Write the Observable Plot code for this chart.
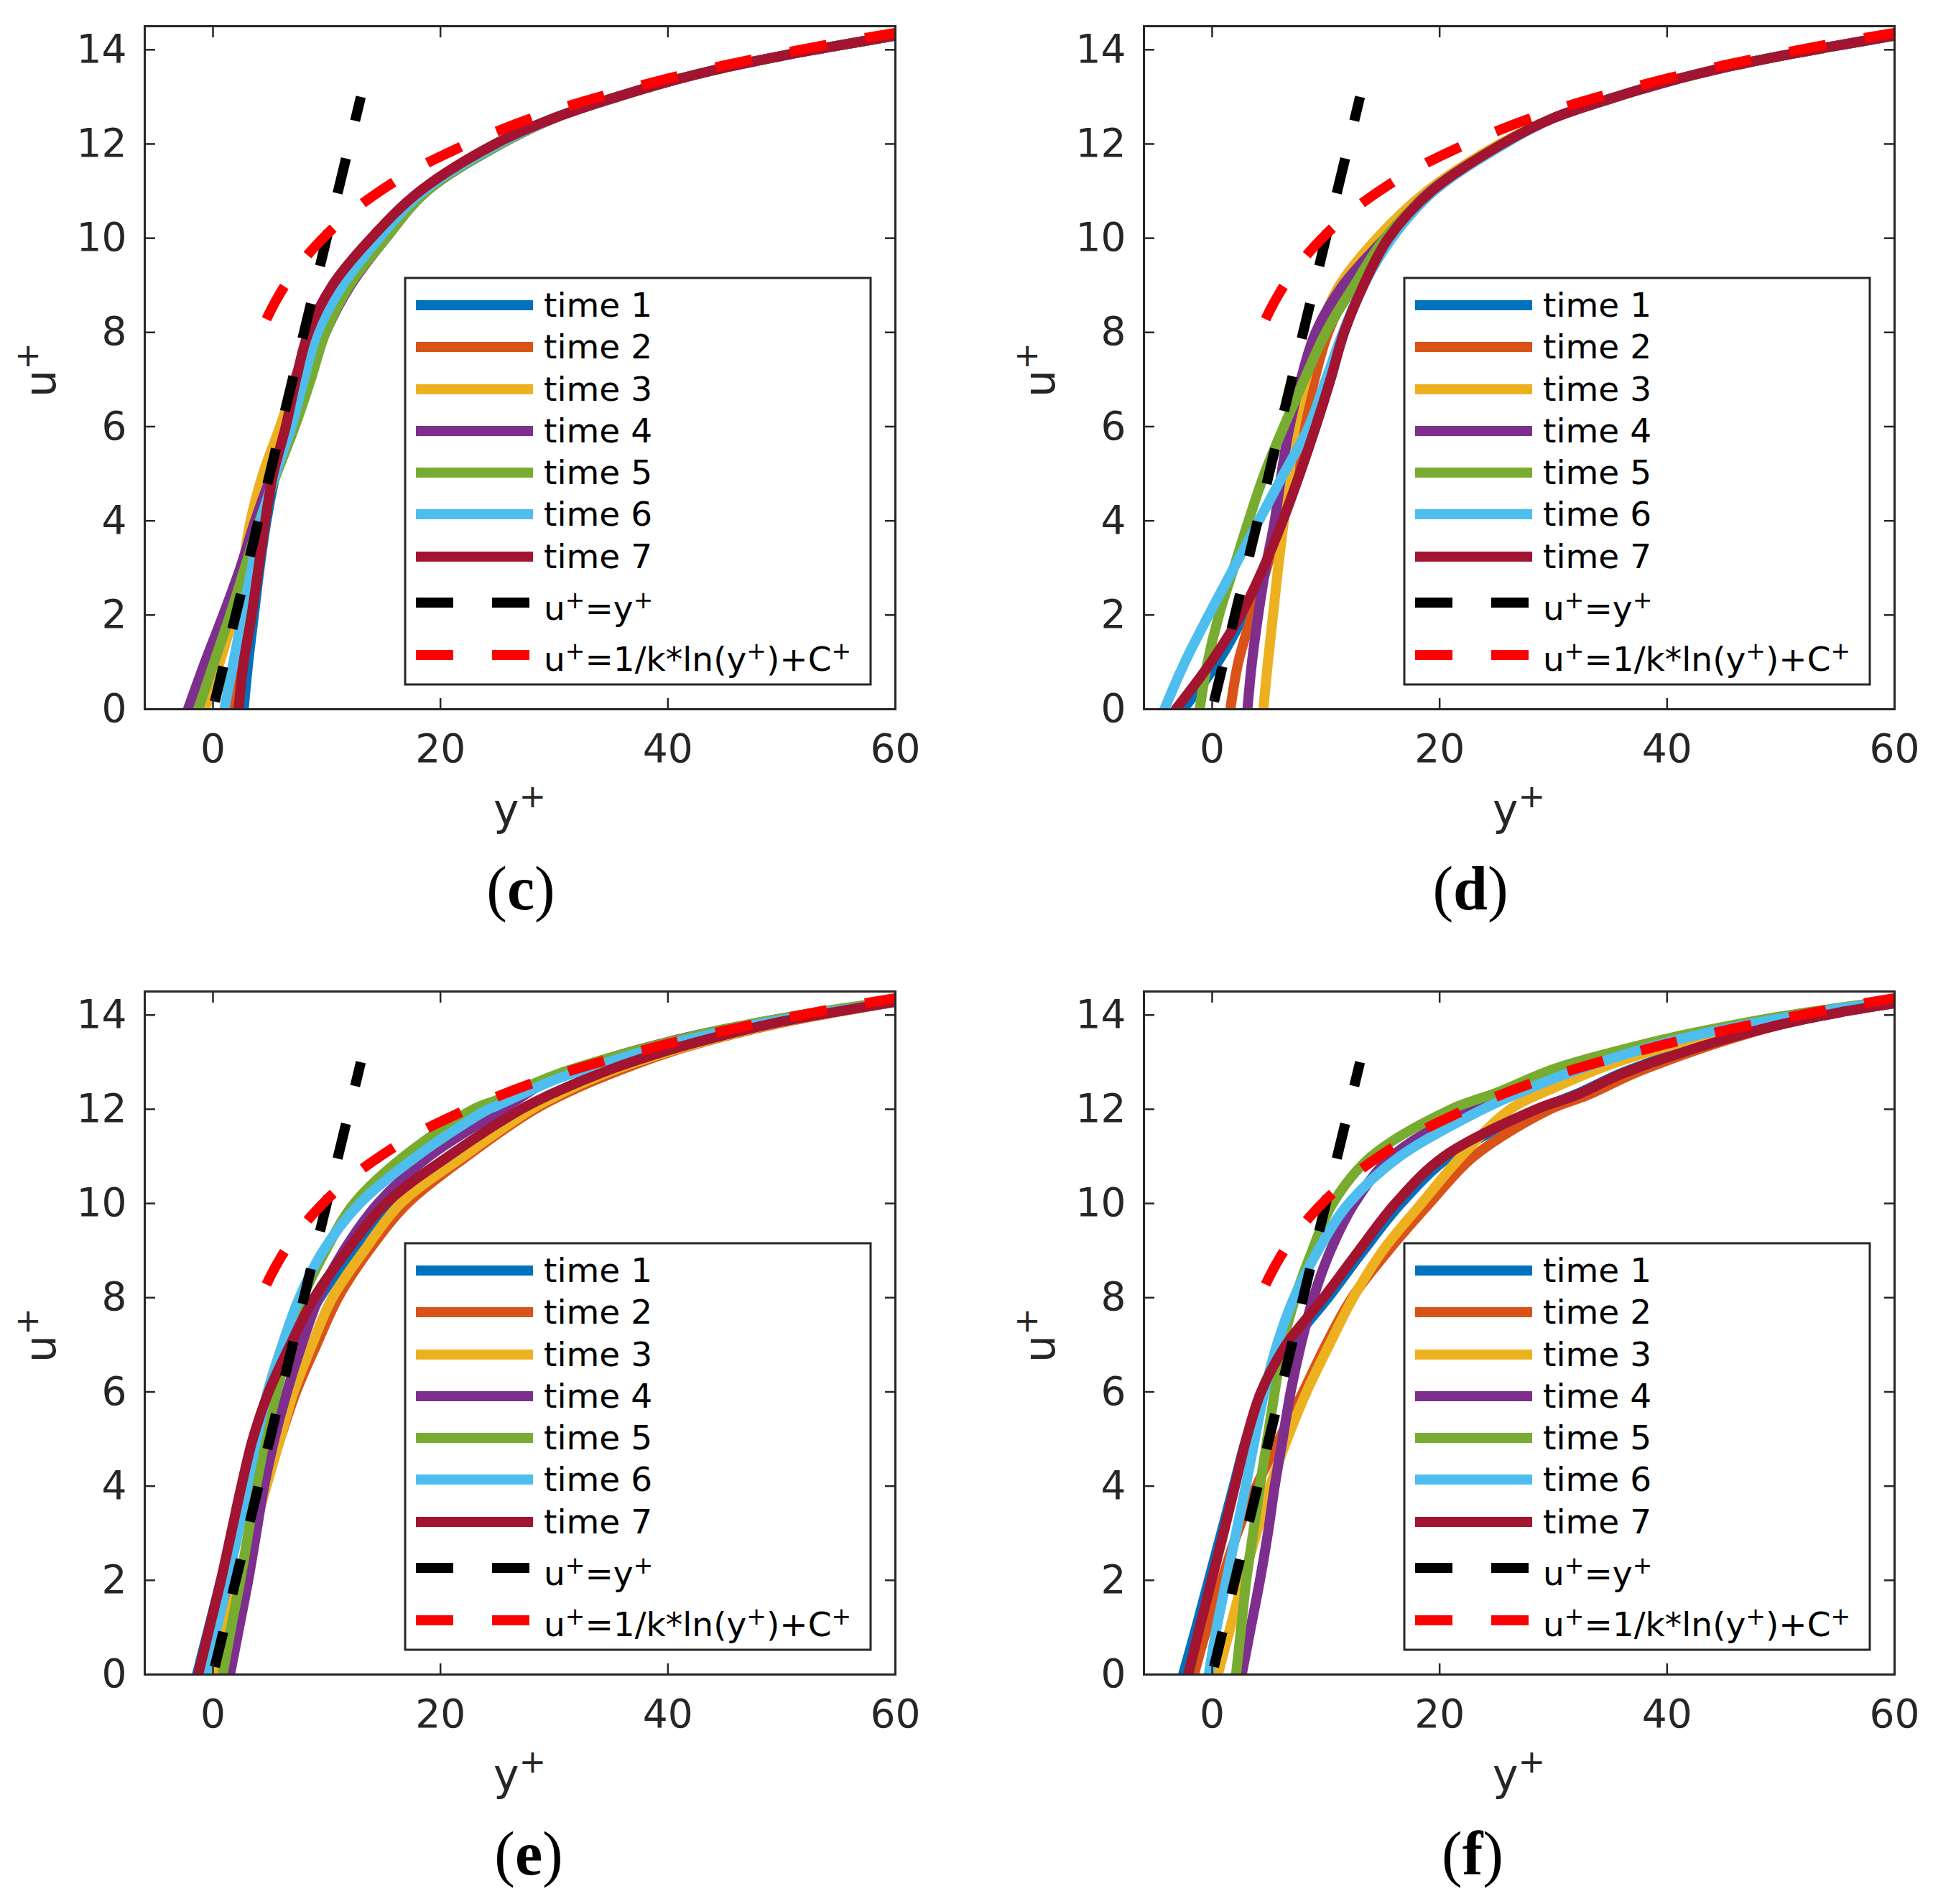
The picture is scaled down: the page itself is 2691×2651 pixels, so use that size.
<!DOCTYPE html>
<html><head><meta charset="utf-8">
<script src="https://cdn.jsdelivr.net/npm/d3@7"></script>
<script src="https://cdn.jsdelivr.net/npm/@observablehq/plot@0.6"></script>
<style>
html,body{margin:0;padding:0;background:#fff;}
#fig{position:relative;width:2691px;height:2651px;background:#fff;overflow:hidden;}
.cell{position:absolute;width:1300px;height:1307px;}
.cell svg{position:absolute;left:0;top:0;}
</style></head><body><div id="fig"></div>
<script>
// ---------- shared ----------
const uLevels = [0,1,2,3,4,5,6,7,8,9,10,11,12];
const xTicks = [0,20,40,60];
const yTicks = [0,2,4,6,8,10,12,14];
const seriesNames = ["time 1","time 2","time 3","time 4","time 5","time 6","time 7"];
const seriesColors = ["#0072BD","#D95319","#EDB120","#7E2F8E","#77AC30","#4DBEEE","#A2142F"];
const viscousY = [0, 13];
const viscousU = [0, 13];
const logLawY = [4.7,5,6,7,8,10,12,15,18,21,25,30,35,40,45,50,55,60];
const logLawU = [8.28,8.43,8.87,9.23,9.55,10.08,10.52,11.05,11.49,11.85,12.27,12.71,13.07,13.39,13.67,13.92,14.15,14.36];
const outerCD = [[30,12.55],[35,12.96],[40,13.32],[45,13.62],[50,13.87],[55,14.09],[60,14.3]];

// ---------- panel (c): y+ at uLevels ----------
const c_time1 = [2.7,3.1,3.6,4.1,4.7,5.5,6.5,7.5,8.8,10.9,14.4,18.5,25.1];
const c_time2 = [1.5,2.3,3.0,3.6,4.1,5.0,6.0,7.2,8.7,10.8,14.3,18.4,25.1];
const c_time3 = [-0.7,0.6,1.8,2.6,3.3,4.4,5.9,7.3,8.9,11.1,14.7,18.7,25.3];
const c_time4 = [-2.2,-0.7,0.9,2.4,3.7,5.2,6.9,8.4,9.9,12.1,15.2,18.8,25.3];
const c_time5 = [-1.3,0.1,1.5,2.8,4.1,5.6,7.2,8.6,9.9,12.0,15.2,18.8,25.3];
const c_time6 = [1.0,1.8,2.6,3.4,4.2,5.5,6.9,8.0,9.2,11.4,14.6,18.5,25.1];
const c_time7 = [2.25,2.7,3.4,4.0,4.6,5.3,6.4,7.3,8.4,10.5,13.9,18.2,24.8];

// ---------- panel (d) ----------
const d_time1 = [-2.55,0.5,2.8,4.6,6.2,7.7,9.1,10.4,11.6,13.3,15.5,19.3,25.5];
const d_time2 = [1.6,2.3,3.5,4.8,5.9,7.0,8.1,9.0,10.2,12.2,14.9,19.0,25.5];
const d_time3 = [4.5,4.9,5.35,5.8,6.3,6.8,7.3,8.25,9.4,11.2,14.5,18.9,25.3];
const d_time4 = [3.1,3.5,4.05,4.7,5.5,6.1,6.8,7.8,9.1,11.5,15.2,19.2,25.5];
const d_time5 = [-1.1,-0.4,0.6,1.9,3.2,4.6,6.3,8.1,10.0,12.5,15.2,19.3,25.5];
const d_time6 = [-4.2,-2.4,-0.3,1.9,4.1,6.3,8.5,10.0,11.5,13.3,15.8,19.5,25.7];
const d_time7 = [-3.2,-0.1,2.5,4.5,6.2,7.7,9.1,10.4,11.6,13.3,15.5,19.3,25.5];

// ---------- panel (e) ----------
const e_time1 = [-1.4,-0.35,0.7,1.7,2.6,3.6,5.0,7.1,9.4,12.3,15.6,21.0,27.3];
const e_time2 = [0.0,1.1,2.2,3.4,4.6,5.9,7.3,9.1,11.0,13.7,17.1,22.3,28.3];
const e_time3 = [0.2,1.2,2.3,3.5,4.7,5.9,7.1,8.7,10.5,13.3,16.5,22.0,28.0];
const e_time4 = [1.5,2.3,3.1,3.8,4.5,5.4,6.5,7.8,9.3,11.5,14.5,19.0,25.5];
const e_time5 = [0.85,1.6,2.4,3.1,3.8,4.6,5.6,6.7,7.9,9.9,12.4,16.8,22.9];
const e_time6 = [-0.6,0.35,1.3,2.2,3.0,3.85,4.8,6.1,7.6,9.7,12.9,17.9,24.2];
const e_time7 = [-1.3,-0.3,0.7,1.6,2.5,3.5,4.9,6.8,8.9,11.8,15.2,20.7,27.1];
const e_time1_outer = [[30,12.35],[35,12.85],[40,13.25],[45,13.58],[50,13.86],[55,14.08],[60,14.28]];
const e_time2_outer = [[32,12.45],[36,12.85],[40,13.2],[45,13.55],[50,13.84],[55,14.07],[60,14.28]];
const e_time3_outer = [[32,12.5],[36,12.9],[40,13.22],[45,13.56],[50,13.85],[55,14.08],[60,14.28]];
const e_time4_outer = [[30,12.68],[35,13.1],[40,13.43],[45,13.7],[50,13.93],[55,14.12],[60,14.3]];
const e_time5_outer = [[25,12.2],[30,12.72],[35,13.1],[40,13.42],[45,13.7],[50,13.93],[55,14.13],[60,14.3]];
const e_time6_outer = [[25,12.08],[30,12.62],[35,13.02],[40,13.37],[45,13.66],[50,13.9],[55,14.1],[60,14.27]];
const e_time7_outer = [[30,12.35],[35,12.85],[40,13.25],[45,13.58],[50,13.86],[55,14.08],[60,14.28]];

// ---------- panel (f) ----------
const f_time1 = [-2.55,-1.4,-0.3,0.8,1.9,3.0,4.5,6.9,10.2,13.3,16.6,20.9,28.7];
const f_time2 = [-1.6,-0.45,0.85,2.2,3.9,5.9,8.0,10.0,12.3,15.5,19.1,23.0,29.7];
const f_time3 = [0.5,1.6,2.7,3.9,5.1,6.6,8.3,10.3,12.4,15.0,18.4,21.9,26.2];
const f_time4 = [2.6,3.4,4.2,4.9,5.5,6.2,6.9,7.8,8.9,10.4,12.5,15.8,22.5];
const f_time5 = [2.1,2.55,3.0,3.6,4.2,4.85,5.5,6.2,7.3,8.8,10.6,14.0,21.0];
const f_time6 = [-0.3,0.4,1.25,2.1,2.95,3.75,4.6,5.7,7.2,9.3,12.0,16.5,23.8];
const f_time7 = [-2.1,-1.1,-0.05,1.0,2.0,3.0,4.3,6.5,9.8,12.9,16.1,20.4,28.5];
const f_time1_outer = [[32,12.32],[36,12.77],[40,13.12],[45,13.49],[50,13.8],[55,14.05],[60,14.25]];
const f_time2_outer = [[33,12.3],[37,12.75],[41,13.12],[45,13.45],[50,13.8],[55,14.05],[60,14.25]];
const f_time3_outer = [[30,12.45],[35,12.95],[40,13.33],[45,13.64],[50,13.9],[55,14.1],[60,14.28]];
const f_time4_outer = [[25,12.3],[30,12.82],[35,13.18],[40,13.48],[45,13.74],[50,13.96],[55,14.14],[60,14.31]];
const f_time5_outer = [[25,12.35],[30,12.85],[35,13.2],[40,13.5],[45,13.75],[50,13.97],[55,14.15],[60,14.32]];
const f_time6_outer = [[27,12.35],[30,12.65],[35,13.07],[40,13.42],[45,13.7],[50,13.93],[55,14.13],[60,14.3]];
const f_time7_outer = [[32,12.3],[36,12.75],[40,13.1],[45,13.48],[50,13.8],[55,14.05],[60,14.25]];

// ---------- build ----------
function series(name, yArr, outer) {
  const pts = yArr.map((y, i) => ({series: name, y: y, u: uLevels[i]}));
  outer.forEach(([y, u]) => pts.push({series: name, y: y, u: u}));
  return pts;
}
const panels = [
  {id: "c", left: 0, top: 0, capX: 725,
   data: [c_time1,c_time2,c_time3,c_time4,c_time5,c_time6,c_time7], outer: Array(7).fill(outerCD)},
  {id: "d", left: 1391, top: 0, capX: 656,
   data: [d_time1,d_time2,d_time3,d_time4,d_time5,d_time6,d_time7], outer: Array(7).fill(outerCD)},
  {id: "e", left: 0, top: 1344, capX: 736,
   data: [e_time1,e_time2,e_time3,e_time4,e_time5,e_time6,e_time7],
   outer: [e_time1_outer,e_time2_outer,e_time3_outer,e_time4_outer,e_time5_outer,e_time6_outer,e_time7_outer]},
  {id: "f", left: 1391, top: 1344, capX: 659,
   data: [f_time1,f_time2,f_time3,f_time4,f_time5,f_time6,f_time7],
   outer: [f_time1_outer,f_time2_outer,f_time3_outer,f_time4_outer,f_time5_outer,f_time6_outer,f_time7_outer]}
];
const viscous = viscousY.map((y, i) => ({y, u: viscousU[i]}));
const logLaw = logLawY.map((y, i) => ({y, u: logLawU[i]}));

const fig = document.getElementById("fig");
const FONT = "DejaVu Sans";
const LW = 14;

function rich(sel, parts, base, supSize, shift) {
  let prevSup = false;
  parts.forEach(([s, sup]) => {
    const t = sel.append("tspan").text(s);
    if (sup) { t.attr("font-size", supSize).attr("dy", -shift); }
    else { t.attr("font-size", base); if (prevSup) t.attr("dy", shift); }
    prevSup = sup;
  });
}

panels.forEach(p => {
  const cell = document.createElement("div");
  cell.className = "cell";
  cell.style.left = p.left + "px";
  cell.style.top = p.top + "px";
  fig.appendChild(cell);

  const rows = [];
  p.data.forEach((arr, i) => rows.push(...series(seriesNames[i], arr, p.outer[i])));

  const chart = Plot.plot({
    width: 1300, height: 1100,
    marginLeft: 201, marginRight: 54, marginTop: 36, marginBottom: 113,
    x: {domain: [-6, 60]},
    y: {domain: [0, 14.5]},
    color: {domain: seriesNames, range: seriesColors},
    style: {fontFamily: FONT, fontSize: "55px", color: "#262626", background: "transparent", overflow: "visible"},
    marks: [
      Plot.line(rows, {x: "y", y: "u", z: "series", stroke: "series", strokeWidth: LW,
        curve: "catmull-rom", strokeLinejoin: "round", clip: true}),
      Plot.line(viscous, {x: "y", y: "u", stroke: "#000000", strokeWidth: LW,
        strokeDasharray: "50,54", strokeDashoffset: 93, strokeLinecap: "butt", clip: true}),
      Plot.line(logLaw, {x: "y", y: "u", stroke: "#FF0000", strokeWidth: LW, curve: "monotone-x",
        strokeDasharray: "52,54", strokeLinecap: "butt", clip: true}),
      Plot.frame({stroke: "#262626", strokeWidth: 3}),
      Plot.axisX({ticks: xTicks, tickSize: -15, tickPadding: 49, tickFormat: d => String(d), label: null, strokeWidth: 2.5}),
      Plot.axisX({anchor: "top", ticks: xTicks, tickSize: -15, tickFormat: () => "", label: null, strokeWidth: 2.5}),
      Plot.axisY({ticks: yTicks, tickSize: -15, tickPadding: 40, tickFormat: d => String(d), label: null, strokeWidth: 2.5}),
      Plot.axisY({anchor: "right", ticks: yTicks, tickSize: -15, tickFormat: () => "", label: null, strokeWidth: 2.5})
    ]
  });
  cell.appendChild(chart);

  // overlay: legend, axis titles, caption
  const svg = d3.select(cell).append("svg")
    .attr("width", 1300).attr("height", 1307)
    .style("overflow", "visible").style("pointer-events", "none")
    .attr("font-family", FONT);

  const L = {x: 564, y: 387, w: 648, h: 566};
  svg.append("rect").attr("x", L.x).attr("y", L.y).attr("width", L.w).attr("height", L.h)
    .attr("fill", "#ffffff").attr("stroke", "#262626").attr("stroke-width", 3);
  const rowY = [38, 96, 155, 213, 271, 329, 388, 452, 525];
  const baseOff = [15.5, 15.5, 15.5, 15.5, 15.5, 15.5, 15.5, 24, 22];
  const legendEntries = seriesNames.map((n, i) => ({parts: [[n, false]], color: seriesColors[i], dash: null}));
  legendEntries.push({parts: [["u", false], ["+", true], ["=y", false], ["+", true]], color: "#000000", dash: "52,54"});
  legendEntries.push({parts: [["u", false], ["+", true], ["=1/k*ln(y", false], ["+", true], [")+C", false], ["+", true]], color: "#FF0000", dash: "52,54"});
  legendEntries.forEach((e, i) => {
    const cy = L.y + rowY[i];
    const ln = svg.append("line").attr("x1", L.x + 15).attr("x2", L.x + 178)
      .attr("y1", cy).attr("y2", cy).attr("stroke", e.color).attr("stroke-width", LW);
    if (e.dash) ln.attr("stroke-dasharray", e.dash);
    const t = svg.append("text").attr("x", L.x + 193).attr("y", cy + baseOff[i])
      .attr("fill", "#000000").attr("font-size", 47);
    rich(t, e.parts, 47, 33, 16);
  });

  const xt = svg.append("text").attr("x", 723.5).attr("y", 1147.5).attr("text-anchor", "middle")
    .attr("fill", "#262626").attr("font-size", 60);
  rich(xt, [["y", false], ["+", true]], 60, 45, 24);
  const yt = svg.append("text").attr("transform", "translate(77,515) rotate(-90)")
    .attr("text-anchor", "middle").attr("fill", "#262626").attr("font-size", 60);
  rich(yt, [["u", false], ["+", true]], 60, 45, 24);

  const cap = svg.append("text").attr("x", p.capX).attr("y", 1266).attr("text-anchor", "middle")
    .attr("font-family", "Liberation Serif").attr("font-weight", "bold").attr("font-size", 86).attr("fill", "#000000");
  cap.append("tspan").attr("font-weight", "normal").text("(");
  cap.append("tspan").text(p.id);
  cap.append("tspan").attr("font-weight", "normal").text(")");
});
</script></body></html>
